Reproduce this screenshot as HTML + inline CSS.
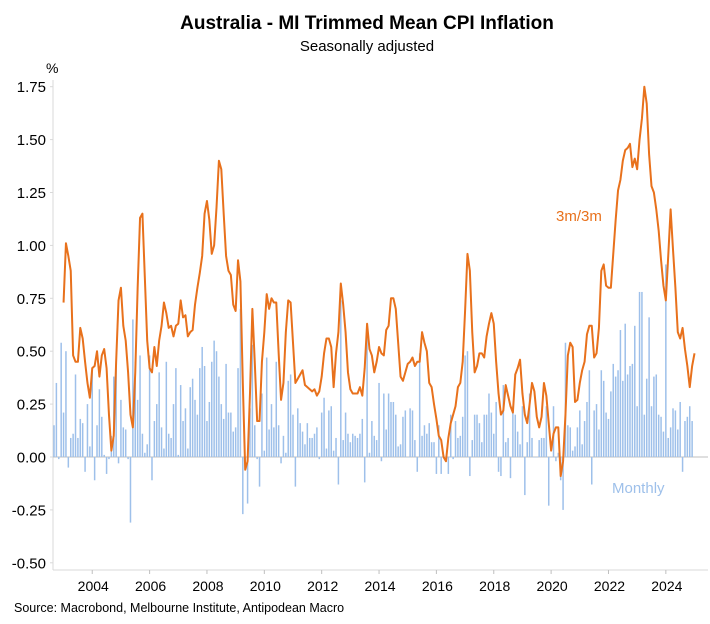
<!DOCTYPE html>
<html><head><meta charset="utf-8"><style>
body{margin:0;background:#fff;}
svg text{font-family:"Liberation Sans",Arial,sans-serif;}
</style></head><body>
<svg id="chart" width="710" height="619" viewBox="0 0 710 619" xmlns="http://www.w3.org/2000/svg">
<text x="367" y="29" text-anchor="middle" font-size="19" font-weight="bold" fill="#000">Australia - MI Trimmed Mean CPI Inflation</text>
<text x="367" y="51" text-anchor="middle" font-size="15" fill="#000">Seasonally adjusted</text>
<text x="46" y="73" font-size="14" fill="#000">%</text>
<g id="yaxis"></g>
<g id="xaxis"></g>
<g id="bars"></g>
<path id="line" fill="none" stroke="#e8711c" stroke-width="2" stroke-linejoin="round"></path>
<text x="556" y="221" font-size="15" fill="#e8711c">3m/3m</text>
<text x="612" y="493" font-size="15" fill="#9ec0ea">Monthly</text>
<text x="14" y="612" font-size="12.5" fill="#000">Source: Macrobond, Melbourne Institute, Antipodean Macro</text>
</svg>
<script>
const yTicks=[1.75,1.5,1.25,1.0,0.75,0.5,0.25,0,-0.25,-0.5];
const yTickLabels=["1.75","1.50","1.25","1.00","0.75","0.50","0.25","0.00","-0.25","-0.50"];
const xTickYears=[2004,2006,2008,2010,2012,2014,2016,2018,2020,2022,2024];
const startYear=2002, startMonth=8; // Sep 2002 = month index 0
const monthly=[0.15,0.35,-0.01,0.54,0.21,0.50,-0.05,0.09,0.11,0.39,0.09,0.18,0.16,-0.07,0.25,0.05,0.41,-0.11,0.15,0.32,0.19,0.01,-0.08,-0.01,0.10,0.38,0.44,-0.03,0.27,0.14,0.13,-0.01,-0.31,0.65,0.45,0.27,0.48,0.11,0.02,0.06,0.48,-0.11,0.17,0.25,0.40,0.14,0.04,0.45,0.11,0.09,0.25,0.42,0.01,0.34,0.17,0.23,0.04,0.33,0.37,0.27,0.20,0.42,0.52,0.43,0.17,0.26,0.45,0.55,0.50,0.38,0.25,0.18,0.44,0.21,
0.21,0.12,0.14,0.42,0.70,-0.27,-0.05,-0.22,0.23,0.53,0.15,-0.01,-0.14,0.30,0.03,0.47,0.13,0.25,0.14,0.45,0.15,-0.03,0.10,0.02,0.36,0.39,0.20,-0.14,0.23,0.16,0.12,0.06,0.16,0.09,0.09,0.11,0.14,-0.01,0.21,0.28,0.04,0.22,0.24,0.03,0.09,-0.13,0.74,0.08,0.21,0.11,0.07,0.11,0.10,0.09,0.11,0.18,-0.12,0.57,0.02,0.17,0.10,0.08,0.35,-0.02,0.30,0.13,0.30,
0.26,0.26,0.20,0.05,0.06,0.19,0.22,0.0,0.23,0.22,0.08,-0.07,0.49,0.10,0.15,0.11,0.16,0.07,0.07,-0.08,0.15,-0.08,0.01,0.0,-0.08,0.20,-0.01,0.17,0.09,0.10,0.19,0.48,0.50,-0.09,0.08,0.20,0.20,0.16,0.07,0.20,0.20,0.30,0.21,0.11,0.26,-0.07,-0.09,0.34,0.07,0.09,-0.10,0.24,0.20,0.12,0.06,0.24,-0.18,0.07,0.30,0.09,0.0,0.0,0.08,0.09,0.09,
0.24,-0.23,0.0,0.24,-0.02,0.02,-0.11,-0.25,0.54,0.15,0.14,0.03,0.05,0.14,0.22,0.06,0.17,0.26,0.41,-0.13,0.22,0.25,0.13,0.41,0.36,0.21,0.18,0.31,0.44,0.38,0.41,0.60,0.36,0.63,0.39,0.43,0.44,0.62,0.24,0.78,0.78,0.20,0.37,0.66,0.24,0.38,0.39,0.20,0.19,0.12,0.91,0.09,0.14,0.23,0.22,0.13,0.26,-0.07,0.17,0.19,0.24,0.17];
const lineStart=4;
const line3m3m=[0.73,1.01,0.95,0.88,0.48,0.45,0.45,0.61,0.56,0.45,0.35,0.28,0.42,0.43,0.50,0.38,0.48,0.51,0.42,0.20,0.03,0.10,0.45,0.74,0.80,0.62,0.55,0.40,0.20,0.14,0.40,0.80,1.13,1.15,0.85,0.55,0.42,0.40,0.52,0.43,0.55,0.62,0.73,0.68,0.61,0.62,0.57,0.62,0.63,0.74,0.66,0.67,0.57,0.59,0.60,0.72,0.80,0.87,0.95,1.15,1.21,1.12,0.96,1.00,1.18,1.40,1.36,1.15,0.95,
0.88,0.86,0.72,0.69,0.93,0.83,0.35,-0.06,-0.02,0.30,0.70,0.45,0.17,0.17,0.45,0.59,0.77,0.70,0.75,0.73,0.73,0.49,0.27,0.35,0.59,0.74,0.73,0.54,0.35,0.37,0.39,0.41,0.34,0.33,0.32,0.31,0.32,0.29,0.31,0.38,0.49,0.56,0.56,0.52,0.33,0.49,0.59,0.82,0.72,0.59,0.40,0.32,0.30,0.30,0.30,0.33,0.29,0.42,0.63,0.51,0.48,0.40,0.45,0.52,0.49,0.48,0.60,0.62,0.75,0.75,0.70,0.54,0.38,0.36,0.40,0.44,0.45,0.47,0.43,0.45,0.45,0.59,0.54,0.50,0.35,0.33,0.25,0.18,0.10,0.08,0.0,-0.02,0.09,0.16,0.20,0.24,0.33,0.35,0.45,0.69,0.96,0.88,0.59,0.40,0.43,0.49,0.49,0.47,0.57,0.63,0.68,0.63,0.45,0.30,0.20,0.22,0.34,0.29,0.24,0.21,0.39,0.42,0.46,0.30,0.20,0.16,0.25,0.35,0.31,0.19,0.14,0.19,0.35,0.29,0.16,0.03,0.11,0.14,0.14,-0.09,-0.02,0.20,0.48,0.54,0.52,0.26,0.27,0.35,0.41,0.45,0.58,0.62,0.62,0.47,0.49,0.61,0.88,0.91,0.81,0.80,0.80,0.96,1.12,1.26,1.31,1.40,1.45,1.46,1.48,1.37,1.41,1.36,1.50,1.60,1.75,1.67,1.43,1.28,1.25,1.17,1.07,0.93,0.81,0.74,0.95,1.17,0.98,0.80,0.59,0.56,0.61,0.51,0.43,0.33,0.43,0.49];

const NS="http://www.w3.org/2000/svg";
const X0=54, DX=2.39, Y0=457, KY=211.6, LEFT=53, RIGHT=708, BOTTOM=570, TOP=80;
function xOf(m){return X0+m*DX;}
function yOf(v){return Y0-v*KY;}
function mk(tag,attrs,parent){const e=document.createElementNS(NS,tag);for(const k in attrs)e.setAttribute(k,attrs[k]);parent.appendChild(e);return e;}

const ya=document.getElementById('yaxis');
const yl=mk('line',{x1:LEFT,x2:LEFT,y1:TOP,y2:BOTTOM,stroke:'#d9d9d9','stroke-width':1},ya);


yTicks.forEach((v,i)=>{
  const t=mk('text',{x:46,y:yOf(v)+5.5,'text-anchor':'end','font-size':15,fill:'#000'},ya);
  t.textContent=yTickLabels[i];
  
  
  const tk=mk('line',{x1:LEFT-3,x2:LEFT,y1:yOf(v),y2:yOf(v),stroke:'#d9d9d9'},ya);
  
  
});
const xa=document.getElementById('xaxis');
const xl=mk('line',{x1:LEFT,x2:RIGHT,y1:BOTTOM,y2:BOTTOM,stroke:'#d9d9d9'},xa);


const zl=mk('line',{x1:LEFT,x2:RIGHT,y1:yOf(0),y2:yOf(0),stroke:'#bfbfbf'},xa);


xTickYears.forEach(yr=>{
  const m=(yr-startYear)*12-startMonth;
  const x=xOf(m);
  const tk=mk('line',{x1:x,x2:x,y1:BOTTOM,y2:BOTTOM+4,stroke:'#bfbfbf'},xa);
  
  
  const t=mk('text',{x:x+1,y:591,'text-anchor':'middle','font-size':14,fill:'#000'},xa);
  t.textContent=yr;
  
  
});
const bg=document.getElementById('bars');
monthly.forEach((v,m)=>{
  const y1=yOf(Math.max(v,0)), y2=yOf(Math.min(v,0));
  const r=mk('rect',{x:xOf(m)-0.75,y:y1,width:1.5,height:Math.max(y2-y1,0.5),fill:'#9ec0ea'},bg);
  
  
});
let d='';
line3m3m.forEach((v,i)=>{d+=(i?'L':'M')+xOf(lineStart+i).toFixed(2)+','+yOf(v).toFixed(2);});
document.getElementById('line').setAttribute('d',d);
</script>
</body></html>
